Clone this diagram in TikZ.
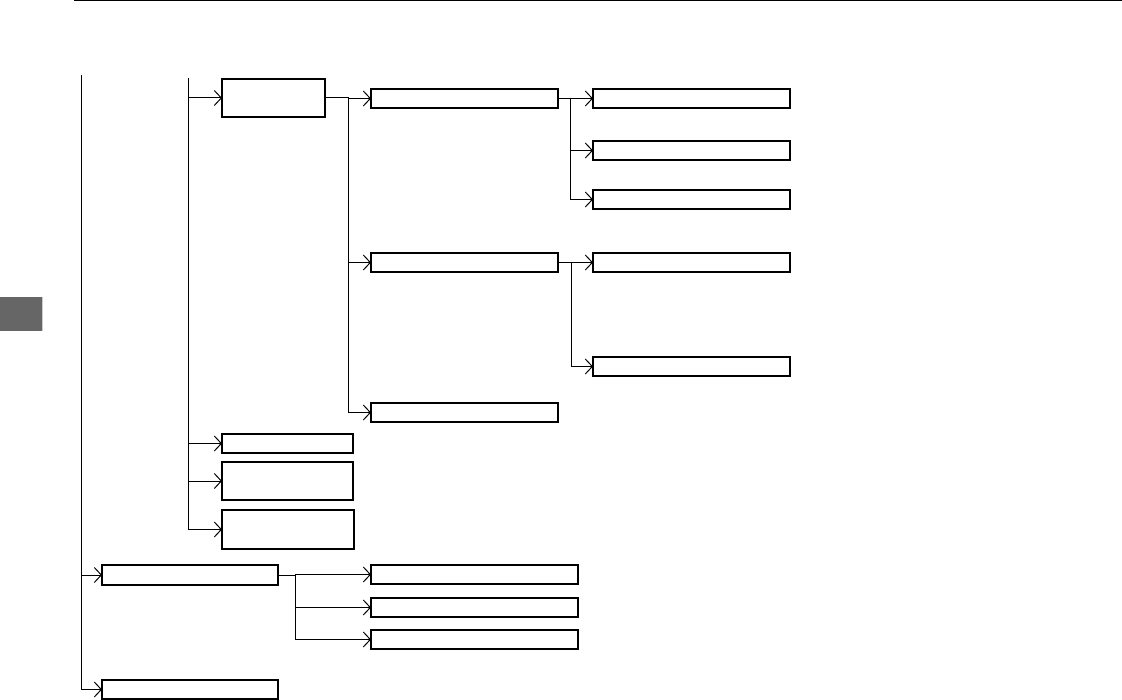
\documentclass[tikz,border=0pt]{standalone}
\usetikzlibrary{arrows.meta}
\tikzset{
  box/.style={draw, rectangle, line width=1.1pt, inner sep=0pt, outer sep=0pt, anchor=north west},
  conn/.style={line width=1pt},
  arr/.style={conn, -{Straight Barb[length=7pt,width=15pt]}},
}
\newcommand\bx[5]{\node[box, minimum width={(#4-#2)*1pt}, minimum height={(#5-#3)*1pt}] (#1) at (#2,#3) {};}
\begin{document}
\begin{tikzpicture}[x=1pt,y=-1pt]
\useasboundingbox (0,0) rectangle (1122,700);
% page decorations
\draw[line width=1pt] (74,0.6) -- (1122,0.6);
\fill[black!60] (0,297) rectangle (42,331);
\draw[black!20, line width=0.8pt] (42.4,297) -- (42.4,331);
% boxes
\bx{A}{222}{79}{325}{117}
\bx{B1}{371}{89}{558}{108}
\bx{B2}{371}{253}{558}{272}
\bx{B3}{371}{403}{558}{422}
\bx{C1}{593}{89}{790}{108}
\bx{C2}{593}{141}{790}{160}
\bx{C3}{593}{190}{790}{209}
\bx{C4}{593}{253}{790}{272}
\bx{C5}{593}{357}{790}{376}
\bx{D1}{222}{434}{353}{453}
\bx{D2}{222}{462}{353}{500}
\bx{D3}{222}{510}{354}{549}
\bx{E1}{102}{565}{278}{585}
\bx{E2}{102}{680}{278}{699}
\bx{F1}{371}{565}{578}{584}
\bx{F2}{371}{598}{578}{617}
\bx{F3}{371}{630}{578}{649}
% branch coordinates
\coordinate (root1) at (81,75);
\coordinate (root2) at (188,78);
\coordinate (bA) at (348,0);
\coordinate (bB1) at (570,0);
\coordinate (bB2) at (571,0);
\coordinate (bE1) at (295,0);
% level 1
\draw[conn] (root1) -- (root1 |- E2.west);
\foreach \c in {E1,E2} \draw[arr] (root1 |- \c.west) -- (\c.west);
% level 2
\draw[conn] (root2) -- (root2 |- D3.west);
\foreach \c in {A,D1,D2,D3} \draw[arr] (root2 |- \c.west) -- (\c.west);
% A children
\draw[conn] (A.east) -- (A.east -| bA) -- (bA |- B3.west);
\foreach \c in {B1,B2,B3} \draw[arr] (bA |- \c.west) -- (\c.west);
% B1 children
\draw[conn] (B1.east) -- (B1.east -| bB1) -- (bB1 |- C3.west);
\foreach \c in {C1,C2,C3} \draw[arr] (bB1 |- \c.west) -- (\c.west);
% B2 children
\draw[conn] (B2.east) -- (B2.east -| bB2) -- (bB2 |- C5.west);
\foreach \c in {C4,C5} \draw[arr] (bB2 |- \c.west) -- (\c.west);
% E1 children
\draw[conn] (E1.east) -- (E1.east -| bE1) -- (bE1 |- F3.west);
\foreach \c in {F1,F2,F3} \draw[arr] (bE1 |- \c.west) -- (\c.west);
\end{tikzpicture}
\end{document}
